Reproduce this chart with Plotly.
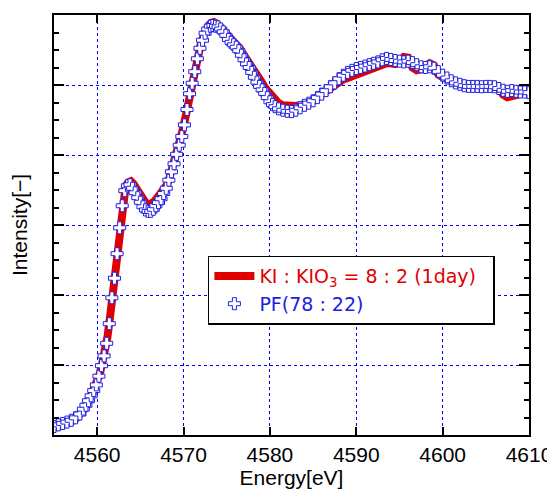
import plotly.graph_objects as go

# KI : KIO3 = 8 : 2 (1day) -- red thick line
energy_ki = [4555.0, 4555.5, 4556.0, 4556.5, 4557.0, 4557.5, 4558.0, 4558.5, 4559.0, 4559.5,
             4560.0, 4560.3, 4560.6, 4560.9, 4561.2, 4561.5, 4561.8, 4562.1, 4562.4, 4562.7,
             4563.0, 4563.3, 4563.6, 4563.9, 4564.2, 4564.5, 4564.8, 4565.1, 4565.4, 4565.7,
             4566.0, 4566.3, 4566.6, 4566.9, 4567.2, 4567.5, 4567.8, 4568.1, 4568.4, 4568.7,
             4569.0, 4569.3, 4569.6, 4569.9, 4570.2, 4570.5, 4570.8, 4571.1, 4571.4, 4571.7,
             4572.0, 4572.3, 4572.6, 4572.9, 4573.2, 4573.5, 4573.8, 4574.1, 4574.4, 4574.7,
             4575.0, 4575.5, 4576.0, 4576.5, 4577.0, 4577.5, 4578.0, 4578.5, 4579.0, 4579.5,
             4580.0, 4580.5, 4581.0, 4581.5, 4582.0, 4582.5, 4583.0, 4583.5, 4584.0, 4584.5,
             4585.0, 4585.5, 4586.0, 4586.5, 4587.0, 4587.5, 4588.0, 4588.5, 4589.0, 4589.5,
             4590.0, 4590.5, 4591.0, 4591.5, 4592.0, 4592.5, 4593.0, 4593.5, 4594.0, 4594.5,
             4595.0, 4595.5, 4596.0, 4596.5, 4597.0, 4597.5, 4598.0, 4598.5, 4599.0, 4599.5,
             4600.0, 4600.5, 4601.0, 4601.5, 4602.0, 4602.5, 4603.0, 4603.5, 4604.0, 4604.5,
             4605.0, 4605.5, 4606.0, 4606.5, 4607.0, 4607.5, 4608.0, 4608.5, 4609.0, 4609.5,
             4610.0]
intensity_ki = [0.020, 0.024, 0.028, 0.032, 0.038, 0.046, 0.057, 0.074, 0.095, 0.122,
                0.150, 0.175, 0.207, 0.240, 0.282, 0.340, 0.410, 0.470, 0.545, 0.620,
                0.680, 0.712, 0.722, 0.725, 0.718, 0.705, 0.690, 0.677, 0.666, 0.660,
                0.658, 0.660, 0.667, 0.676, 0.684, 0.692, 0.702, 0.716, 0.738, 0.762,
                0.788, 0.814, 0.842, 0.872, 0.905, 0.945, 0.985, 1.020, 1.055, 1.090,
                1.118, 1.140, 1.158, 1.170, 1.178, 1.180, 1.176, 1.170, 1.162, 1.156,
                1.146, 1.132, 1.120, 1.105, 1.085, 1.068, 1.050, 1.030, 1.010, 0.990,
                0.974, 0.958, 0.948, 0.942, 0.940, 0.938, 0.940, 0.942, 0.945, 0.950,
                0.957, 0.966, 0.976, 0.986, 0.994, 1.002, 1.010, 1.016, 1.020, 1.025,
                1.028, 1.032, 1.038, 1.044, 1.050, 1.055, 1.058, 1.062, 1.062, 1.060,
                1.066, 1.080, 1.078, 1.050, 1.042, 1.045, 1.055, 1.062, 1.056, 1.030,
                1.022, 1.018, 1.010, 1.006, 1.004, 1.003, 1.002, 1.000, 0.998, 0.998,
                0.998, 1.000, 1.000, 0.990, 0.972, 0.965, 0.968, 0.972, 0.975, 0.980,
                0.980]

# PF(78 : 22) -- blue open crosses
energy_pf = [4555.0, 4555.5, 4556.0, 4556.5, 4557.0, 4557.5, 4558.0, 4558.4, 4558.7, 4559.0,
             4559.3, 4559.6, 4559.9, 4560.2, 4560.5, 4560.8, 4561.1, 4561.4, 4561.7, 4562.0,
             4562.3, 4562.6, 4562.9, 4563.2, 4563.5, 4563.8, 4564.1, 4564.4, 4564.7, 4565.0,
             4565.3, 4565.6, 4565.9, 4566.2, 4566.5, 4566.8, 4567.1, 4567.4, 4567.7, 4568.0,
             4568.3, 4568.6, 4568.9, 4569.2, 4569.5, 4569.8, 4570.1, 4570.4, 4570.7, 4571.0,
             4571.3, 4571.6, 4571.9, 4572.2, 4572.5, 4572.8, 4573.1, 4573.4, 4573.7, 4574.0,
             4574.3, 4574.6, 4574.9, 4575.2, 4575.5, 4575.8, 4576.1, 4576.4, 4576.7, 4577.0,
             4577.3, 4577.6, 4577.9, 4578.2, 4578.5, 4578.8, 4579.1, 4579.4, 4579.7, 4580.0,
             4580.3, 4580.6, 4581.0, 4581.5, 4582.0, 4582.5, 4583.0, 4583.5, 4584.0, 4584.5,
             4585.0, 4585.5, 4586.0, 4586.5, 4587.0, 4587.5, 4588.0, 4588.5, 4589.0, 4589.5,
             4590.0, 4590.5, 4591.0, 4591.5, 4592.0, 4592.5, 4593.0, 4593.5, 4594.0, 4594.5,
             4595.0, 4595.5, 4596.0, 4596.5, 4597.0, 4597.5, 4598.0, 4598.5, 4599.0, 4599.5,
             4600.0, 4600.5, 4601.0, 4601.5, 4602.0, 4602.5, 4603.0, 4603.5, 4604.0, 4604.5,
             4605.0, 4605.5, 4606.0, 4606.5, 4607.0, 4607.5, 4608.0, 4608.5, 4609.0, 4609.5,
             4610.0]
intensity_pf = [0.024, 0.029, 0.033, 0.037, 0.042, 0.049, 0.060, 0.074, 0.085, 0.098,
                0.112, 0.127, 0.143, 0.168, 0.198, 0.226, 0.262, 0.318, 0.392, 0.448,
                0.518, 0.592, 0.655, 0.698, 0.712, 0.715, 0.705, 0.692, 0.678, 0.665,
                0.652, 0.643, 0.639, 0.639, 0.645, 0.655, 0.664, 0.675, 0.690, 0.705,
                0.728, 0.752, 0.775, 0.802, 0.828, 0.853, 0.886, 0.930, 0.975, 1.005,
                1.038, 1.075, 1.105, 1.128, 1.148, 1.160, 1.168, 1.170, 1.168, 1.166,
                1.160, 1.152, 1.142, 1.130, 1.122, 1.115, 1.108, 1.098, 1.085, 1.072,
                1.060, 1.050, 1.036, 1.022, 1.008, 0.996, 0.986, 0.976, 0.964, 0.952,
                0.944, 0.938, 0.932, 0.928, 0.925, 0.924, 0.928, 0.935, 0.942, 0.948,
                0.955, 0.964, 0.974, 0.984, 0.995, 1.006, 1.018, 1.028, 1.036, 1.042,
                1.047, 1.050, 1.054, 1.058, 1.062, 1.066, 1.072, 1.076, 1.073, 1.070,
                1.068, 1.066, 1.068, 1.064, 1.058, 1.052, 1.050, 1.052, 1.048, 1.038,
                1.028, 1.020, 1.012, 1.006, 1.002, 0.998, 0.996, 0.996, 0.996, 0.995,
                0.996, 0.996, 0.995, 0.990, 0.985, 0.982, 0.984, 0.982, 0.980, 0.980,
                0.978]

x_ticks = [4560, 4570, 4580, 4590, 4600, 4610]

RED = "#e00000"
BLUE = "#2020e0"
FONT = "Liberation Sans, Arial, sans-serif"

fig = go.Figure()
fig.add_trace(go.Scatter(
    x=energy_ki, y=intensity_ki, mode="lines",
    line=dict(color=RED, width=8),
    name=f"<span style='color:{RED}'>KI : KIO<sub>3</sub> = 8 : 2 (1day)&nbsp;&nbsp;</span>",
))
fig.add_trace(go.Scatter(
    x=energy_pf, y=intensity_pf, mode="markers",
    marker=dict(symbol="cross", size=10, color="white",
                line=dict(color=BLUE, width=1)),
    name=f"<span style='color:{BLUE}'>PF(78 : 22)</span>",
))

# The page body has an 8px margin, so the figure is made 8px smaller on the
# left and top to keep the plot area where the reference has it.
fig.update_layout(
    width=547, height=484,
    margin=dict(l=46, r=26, t=7, b=57),
    paper_bgcolor="white", plot_bgcolor="white",
    font=dict(family=FONT, size=20, color="black"),
    showlegend=True,
    legend=dict(x=0.324, y=0.427, xanchor="left", yanchor="top",
                bgcolor="white", bordercolor="black", borderwidth=1.5,
                font=dict(family="DejaVu Sans, sans-serif", size=19),
                tracegroupgap=0, itemwidth=40),
)
fig.update_xaxes(
    range=[4555, 4610], tickvals=x_ticks, ticktext=[str(v) for v in x_ticks],
    showline=True, linecolor="black", linewidth=2, mirror="ticks",
    ticks="inside", ticklen=8, tickwidth=2, tickcolor="black",
    showgrid=True, gridcolor="#0000ff", gridwidth=1, griddash="dot",
    zeroline=False, tickfont=dict(size=21), automargin=False,
    ticklabeloverflow="allow",
    title=dict(text="Energy[eV]", font=dict(size=21), standoff=4),
)
fig.update_yaxes(
    range=[0, 1.2], dtick=0.2, tick0=0, showticklabels=False,
    showline=True, linecolor="black", linewidth=2, mirror="ticks",
    ticks="inside", ticklen=10, tickwidth=2, tickcolor="black",
    minor=dict(dtick=0.05, ticks="inside", ticklen=5, tickwidth=2, tickcolor="black", showgrid=False),
    showgrid=True, gridcolor="#0000ff", gridwidth=1, griddash="dot",
    zeroline=False, automargin=False,
    title=dict(text="Intensity[−]", font=dict(size=21), standoff=20),
)

fig.write_html("out.html")
